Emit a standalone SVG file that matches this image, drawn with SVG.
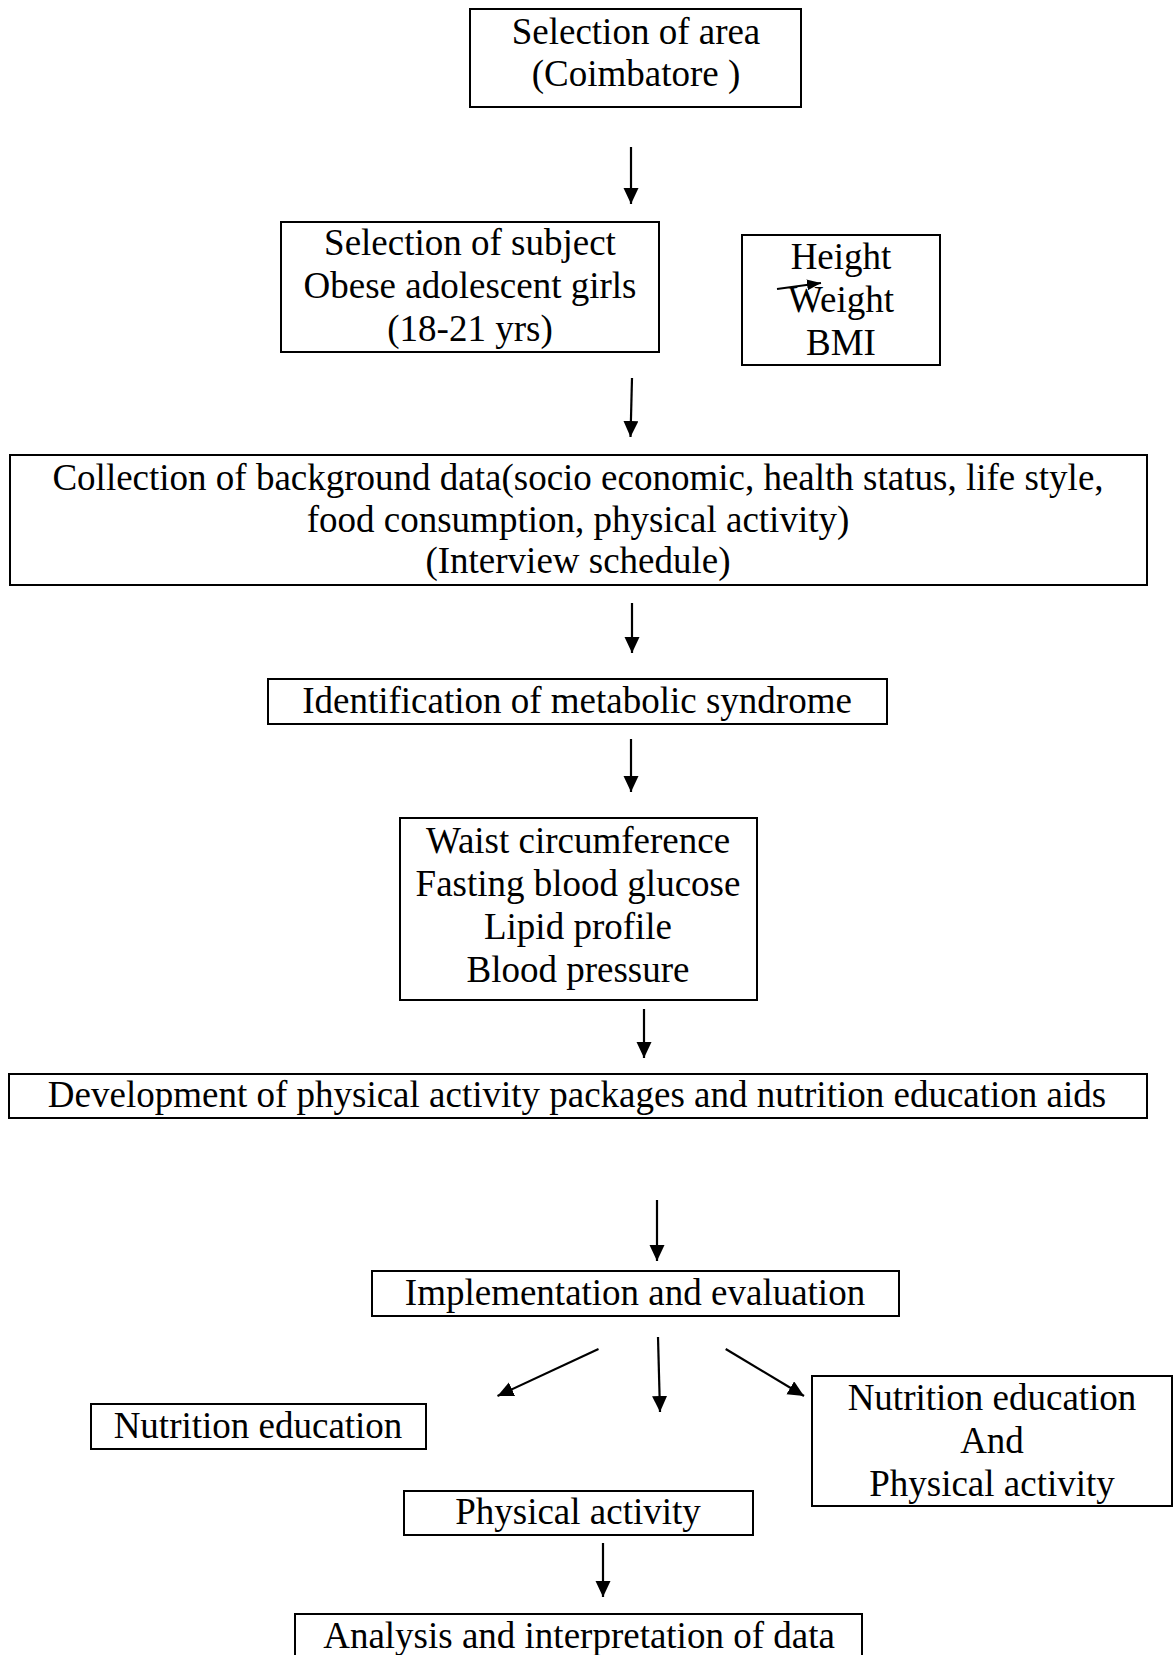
<svg xmlns="http://www.w3.org/2000/svg" width="1173" height="1655" viewBox="0 0 1173 1655">
<defs>
<style>
.box{fill:#fff;stroke:#000;stroke-width:2}
.t{font-family:"Liberation Serif","Times New Roman",serif;font-size:37px;fill:#000;text-anchor:middle}
.c{stroke:#000;stroke-width:2.2;fill:none;marker-end:url(#ah)}
</style>
<marker id="ah" markerUnits="userSpaceOnUse" markerWidth="18" markerHeight="16" refX="16" refY="7.5" orient="auto">
<path d="M0,0 L16,7.5 L0,15 Z" fill="#000"/>
</marker>
<marker id="ahs" markerUnits="userSpaceOnUse" markerWidth="15" markerHeight="12" refX="14" refY="5.5" orient="auto">
<path d="M0,0 L14,5.5 L0,11 Z" fill="#000"/>
</marker>
</defs>
<rect width="1173" height="1655" fill="#fff"/>

<g id="n1"><rect class="box" x="470" y="9" width="331" height="98"/>
<text class="t" x="636" y="44">Selection of area</text>
<text class="t" x="636" y="86">(Coimbatore )</text></g>

<g id="n2"><rect class="box" x="281" y="222" width="378" height="130"/>
<text class="t" x="470" y="255">Selection of subject</text>
<text class="t" x="470" y="298">Obese adolescent girls</text>
<text class="t" x="470" y="341">(18-21 yrs)</text></g>

<g id="n3"><rect class="box" x="742" y="235" width="198" height="130"/>
<text class="t" x="841" y="269">Height</text>
<text class="t" x="841" y="312">Weight</text>
<text class="t" x="841" y="355">BMI</text></g>

<g id="n4"><rect class="box" x="10" y="455" width="1137" height="130"/>
<text class="t" x="578" y="490">Collection of background data(socio economic, health status, life style,</text>
<text class="t" x="578" y="532">food consumption, physical activity)</text>
<text class="t" x="578" y="573">(Interview schedule)</text></g>

<g id="n5"><rect class="box" x="268" y="679" width="619" height="45"/>
<text class="t" x="577" y="713">Identification of metabolic syndrome</text></g>

<g id="n6"><rect class="box" x="400" y="818" width="357" height="182"/>
<text class="t" x="578" y="853">Waist circumference</text>
<text class="t" x="578" y="896">Fasting blood glucose</text>
<text class="t" x="578" y="939">Lipid profile</text>
<text class="t" x="578" y="982">Blood pressure</text></g>

<g id="n7"><rect class="box" x="9" y="1074" width="1138" height="44"/>
<text class="t" x="577" y="1107">Development of physical activity packages and nutrition education aids</text></g>

<g id="n8"><rect class="box" x="372" y="1271" width="527" height="45"/>
<text class="t" x="635" y="1305">Implementation and evaluation</text></g>

<g id="n9"><rect class="box" x="91" y="1404" width="335" height="45"/>
<text class="t" x="258" y="1438">Nutrition education</text></g>

<g id="n10"><rect class="box" x="812" y="1376" width="360" height="130"/>
<text class="t" x="992" y="1410">Nutrition education</text>
<text class="t" x="992" y="1453">And</text>
<text class="t" x="992" y="1496">Physical activity</text></g>

<g id="n11"><rect class="box" x="404" y="1491" width="349" height="44"/>
<text class="t" x="578" y="1524">Physical activity</text></g>

<g id="n12"><rect class="box" x="295" y="1614" width="567" height="60"/>
<text class="t" x="579" y="1648">Analysis and interpretation of data</text></g>

<g id="connectors">
<line class="c" x1="631" y1="147" x2="631" y2="204"/>
<line class="c" x1="632" y1="378" x2="630.5" y2="437"/>
<line class="c" x1="632" y1="603" x2="632" y2="653"/>
<line class="c" x1="631" y1="739" x2="631" y2="792"/>
<line class="c" x1="644" y1="1009" x2="644" y2="1058"/>
<line class="c" x1="657" y1="1200" x2="657" y2="1261"/>
<line class="c" x1="598.5" y1="1349" x2="497.5" y2="1396"/>
<line class="c" x1="658" y1="1337" x2="660" y2="1412"/>
<line class="c" x1="725.7" y1="1349" x2="804" y2="1396"/>
<line class="c" x1="603" y1="1543" x2="603" y2="1597"/>
<line x1="777" y1="289" x2="821" y2="283" stroke="#000" stroke-width="2.2" marker-end="url(#ahs)"/>
</g>
</svg>
